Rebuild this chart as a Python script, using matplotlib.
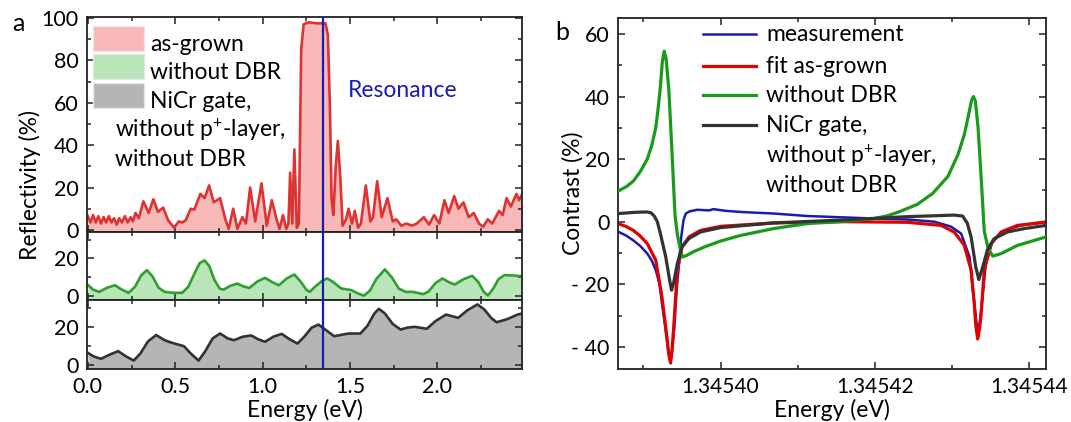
import matplotlib
matplotlib.use("Agg")
import matplotlib.pyplot as plt
import numpy as np
from matplotlib.patches import Rectangle
from matplotlib.lines import Line2D
from matplotlib.ticker import MultipleLocator, FixedLocator, FuncFormatter, FormatStrFormatter

plt.rcParams['font.family'] = ['Lato', 'DejaVu Sans']
plt.rcParams['mathtext.fontset'] = 'custom'
plt.rcParams['mathtext.rm'] = 'Lato'
plt.rcParams['font.size'] = 16.5

# --- panel a: reflectivity spectra, (energy eV, reflectivity %) ---
asgrown = np.array([
    (0.000, 6.5), (0.015, 3.5), (0.030, 7.0), (0.045, 3.5), (0.060, 6.5), (0.075, 3.0),
    (0.090, 6.0), (0.105, 3.5), (0.120, 6.5), (0.135, 3.5), (0.150, 5.5), (0.165, 2.5),
    (0.180, 5.5), (0.195, 3.5), (0.212, 6.5), (0.228, 3.5), (0.245, 6.0), (0.258, 4.0),
    (0.273, 8.0), (0.292, 5.5), (0.318, 13.5), (0.348, 8.0), (0.375, 14.5), (0.401, 8.5),
    (0.431, 10.5), (0.460, 4.5), (0.494, 1.0), (0.520, 4.0), (0.540, 3.5), (0.560, 4.5),
    (0.589, 10.0), (0.609, 9.5), (0.644, 17.0), (0.668, 15.0), (0.694, 21.0), (0.721, 13.0),
    (0.757, 15.0), (0.787, 5.0), (0.806, 0.5), (0.832, 10.0), (0.856, 0.5), (0.885, 6.0),
    (0.905, 3.0), (0.929, 20.0), (0.958, 4.0), (0.994, 22.0), (1.024, 2.0), (1.053, 14.0),
    (1.077, 6.0), (1.097, 0.5), (1.117, 7.0), (1.136, 0.5), (1.148, 3.0), (1.158, 27.0),
    (1.170, 3.0), (1.182, 38.0), (1.196, 1.0), (1.208, 3.0), (1.221, 85.0), (1.235, 97.0),
    (1.261, 98.0), (1.310, 97.5), (1.360, 97.5), (1.374, 92.0), (1.385, 60.0), (1.395, 15.0),
    (1.405, 7.0), (1.419, 30.0), (1.431, 42.0), (1.445, 25.0), (1.458, 2.0), (1.478, 5.0),
    (1.492, 10.0), (1.512, 3.0), (1.528, 9.0), (1.547, 1.0), (1.563, 3.0), (1.591, 21.0),
    (1.617, 4.0), (1.632, 6.0), (1.656, 23.0), (1.682, 6.0), (1.715, 15.0), (1.745, 4.0),
    (1.765, 5.0), (1.794, 2.0), (1.824, 3.0), (1.854, 2.0), (1.883, 3.0), (1.923, 6.0),
    (1.953, 2.5), (1.982, 7.0), (2.012, 3.0), (2.041, 14.0), (2.065, 8.0), (2.097, 16.0),
    (2.121, 10.0), (2.150, 13.0), (2.180, 6.0), (2.209, 8.0), (2.239, 3.0), (2.263, 1.5),
    (2.289, 5.0), (2.314, 3.0), (2.354, 9.0), (2.374, 7.0), (2.397, 15.0), (2.421, 11.0),
    (2.453, 17.0), (2.468, 14.0), (2.486, 17.0),
])

no_dbr = np.array([
    (0.000, 6.0), (0.030, 3.5), (0.065, 2.3), (0.110, 4.5), (0.155, 5.8), (0.195, 3.5),
    (0.233, 1.8), (0.270, 5.0), (0.305, 11.0), (0.338, 13.8), (0.370, 10.5), (0.405, 4.5),
    (0.440, 2.3), (0.490, 1.8), (0.540, 1.8), (0.575, 5.0), (0.610, 12.0), (0.640, 17.5),
    (0.668, 19.0), (0.695, 16.0), (0.725, 8.5), (0.755, 4.0), (0.777, 3.5), (0.815, 5.5),
    (0.856, 6.7), (0.890, 5.2), (0.925, 4.4), (0.970, 7.8), (1.014, 9.7), (1.055, 7.5),
    (1.093, 5.8), (1.140, 9.5), (1.182, 11.5), (1.220, 7.5), (1.250, 3.5), (1.270, 2.3),
    (1.300, 5.0), (1.340, 8.1), (1.370, 9.4), (1.405, 7.5), (1.450, 4.1), (1.510, 3.2),
    (1.545, 1.5), (1.580, 0.3), (1.615, 3.0), (1.650, 9.0), (1.700, 14.2), (1.740, 10.0),
    (1.780, 4.0), (1.820, 2.3), (1.860, 2.3), (1.920, 1.1), (1.950, 2.5), (1.990, 7.0),
    (2.030, 9.4), (2.065, 7.5), (2.100, 6.2), (2.150, 9.0), (2.200, 10.8), (2.235, 7.5),
    (2.265, 2.5), (2.290, 0.4), (2.320, 4.0), (2.350, 9.0), (2.385, 11.2), (2.430, 11.0),
    (2.486, 10.6),
])

nicr = np.array([
    (0.000, 6.4), (0.035, 4.5), (0.075, 3.3), (0.125, 5.5), (0.174, 7.3), (0.220, 4.5),
    (0.263, 2.4), (0.300, 6.0), (0.345, 12.5), (0.391, 15.7), (0.440, 13.0), (0.480, 11.7),
    (0.550, 9.9), (0.590, 6.0), (0.634, 2.4), (0.670, 7.0), (0.715, 14.0), (0.757, 16.5),
    (0.800, 14.0), (0.836, 13.0), (0.885, 14.8), (0.935, 15.5), (0.975, 13.5), (1.014, 12.2),
    (1.065, 15.0), (1.110, 16.3), (1.155, 13.5), (1.200, 11.3), (1.240, 15.0), (1.280, 19.5),
    (1.320, 21.2), (1.360, 18.5), (1.410, 15.1), (1.490, 16.5), (1.560, 16.5), (1.600, 20.5),
    (1.640, 27.0), (1.666, 29.4), (1.700, 27.0), (1.745, 21.5), (1.790, 18.6), (1.830, 19.6),
    (1.870, 20.0), (1.940, 19.0), (1.990, 23.0), (2.050, 26.4), (2.120, 24.7), (2.170, 28.5),
    (2.230, 31.7), (2.270, 29.0), (2.310, 24.5), (2.340, 22.4), (2.400, 24.0), (2.460, 26.4),
    (2.486, 27.0),
])

resonance_ev = 1.3454

# --- panel b: contrast, (detuning in ueV from 1.3454 eV, contrast %) ---
meas = np.array([
    (-13.2, -3.3), (-12.2, -4.5), (-11.3, -6.0), (-10.4, -7.8), (-9.5, -10.2), (-8.9, -12.5),
    (-8.4, -15.5), (-7.9, -20.0), (-7.6, -26.0), (-7.2, -33.0), (-6.8, -41.0), (-6.45, -45.3),
    (-6.0, -34.0), (-5.7, -22.0), (-5.4, -14.0), (-5.1, -5.0), (-4.8, 0.5), (-4.5, 2.6),
    (-4.0, 3.3), (-3.0, 3.8), (-1.5, 3.6), (-0.9, 4.0), (0.5, 3.5), (2.6, 3.1), (6.9, 2.6),
    (11.3, 1.8), (15.6, 1.4), (19.9, 1.0), (24.2, 0.7), (27.7, 0.0), (29.9, -1.6),
    (31.2, -3.8), (32.3, -11.3), (32.9, -26.0), (33.4, -36.8), (33.8, -28.3), (34.4, -13.4),
    (35.3, -6.0), (36.8, -2.8), (39.0, -1.2), (42.2, -0.1),
])

fit_asgrown = np.array([
    (-13.2, -0.7), (-12.2, -1.6), (-11.3, -2.8), (-10.4, -4.6), (-9.5, -7.0), (-8.4, -12.3),
    (-7.6, -24.0), (-6.9, -37.9), (-6.7, -42.5), (-6.5, -45.0), (-6.3, -41.5), (-6.1, -34.7),
    (-5.6, -15.5), (-5.0, -8.1), (-4.1, -4.9), (-2.6, -2.8), (0.0, -1.5), (6.9, -0.4),
    (15.6, 0.0), (24.2, -0.2), (28.6, -1.2), (30.3, -3.3), (31.6, -7.5), (32.5, -15.5),
    (32.9, -26.0), (33.1, -33.0), (33.35, -37.5), (33.6, -34.0), (33.8, -29.4), (34.2, -15.5),
    (35.1, -7.0), (36.4, -3.3), (38.5, -1.2), (42.2, -0.1),
])

fit_no_dbr = np.array([
    (-13.2, 9.9), (-12.2, 11.2), (-11.3, 13.0), (-10.4, 16.0), (-9.5, 20.0), (-8.9, 24.5),
    (-8.4, 30.0), (-8.1, 36.0), (-7.8, 43.0), (-7.55, 51.0), (-7.3, 54.5), (-7.05, 52.0),
    (-6.7, 42.0), (-6.3, 22.5), (-5.9, 2.0), (-5.6, -4.0), (-5.2, -9.0), (-4.95, -11.3),
    (-4.4, -10.8), (-3.5, -9.6), (-2.0, -8.0), (0.0, -6.2), (2.6, -4.4), (6.9, -2.2),
    (11.3, -0.6), (15.6, 0.0), (19.9, 1.0), (21.5, 1.8), (23.0, 3.0), (25.5, 5.5),
    (27.5, 9.0), (29.5, 14.5), (30.8, 21.5), (31.6, 27.7), (32.2, 34.5), (32.55, 38.8),
    (32.8, 40.0), (33.05, 38.5), (33.4, 30.0), (33.8, 14.0), (34.2, -3.0), (34.7, -8.5),
    (35.3, -11.0), (36.4, -10.2), (38.5, -7.6), (42.2, -4.9),
])

fit_nicr = np.array([
    (-13.2, 2.6), (-11.0, 3.0), (-9.5, 3.1), (-9.0, 2.8), (-8.6, 1.8), (-8.2, 0.0),
    (-7.8, -3.8), (-7.1, -11.3), (-6.6, -18.7), (-6.35, -21.9), (-6.1, -19.8), (-5.6, -13.4),
    (-5.0, -8.1), (-4.1, -5.4), (-2.6, -3.3), (0.0, -1.9), (6.9, -0.4), (15.6, 0.5),
    (24.2, 1.6), (30.3, 2.1), (31.4, 1.8), (32.0, -0.5), (32.5, -4.9), (33.1, -14.5),
    (33.5, -18.5), (34.0, -14.5), (34.6, -9.1), (35.5, -5.4), (37.2, -3.3), (39.4, -2.2),
    (42.2, -1.2),
])

b_center = 1.3454
b_xticks = [1.34540, 1.34542, 1.34544]
b_xminor = [1.34539, 1.34541, 1.34543]

RED, PINK = '#dd3333', '#f8b8b8'
GREEN, LGREEN = '#2ea02e', '#b9e5b9'
DARK, GRAY = '#333333', '#b5b5b5'
BLUE = '#1b1bb0'
TICK_FS = 15.5
TEXT_FS = 16.5


def style(ax):
    for s in ax.spines.values():
        s.set_linewidth(1.3)
        s.set_color('#222222')
    ax.tick_params(which='both', direction='in', top=True, right=True,
                   color='#222222', width=1.1, pad=6, labelsize=TICK_FS)
    ax.tick_params(which='major', length=5)
    ax.tick_params(which='minor', length=3)


fig = plt.figure(figsize=(10.71, 4.22), dpi=100)
ax_top = fig.add_axes([0.0812, 0.4502, 0.4062, 0.5095])
ax_mid = fig.add_axes([0.0812, 0.2891, 0.4062, 0.1611])
ax_bot = fig.add_axes([0.0812, 0.1256, 0.4062, 0.1635])
ax_b = fig.add_axes([0.577, 0.1263, 0.3996, 0.8303])

panels = [
    (ax_top, asgrown, RED, PINK, (-1, 100.5), 20),
    (ax_mid, no_dbr, GREEN, LGREEN, (-2, 34), 20),
    (ax_bot, nicr, DARK, GRAY, (-2, 34), 20),
]
for ax, data, lc, fc, ylim, step in panels:
    ax.fill_between(data[:, 0], data[:, 1], ylim[0], color=fc, lw=0)
    ax.plot(data[:, 0], data[:, 1], color=lc, lw=1.9)
    ax.axvline(resonance_ev, color=BLUE, lw=1.6, zorder=3)
    ax.set_xlim(-0.005, 2.485)
    ax.set_ylim(*ylim)
    ax.xaxis.set_major_locator(MultipleLocator(0.5))
    ax.xaxis.set_minor_locator(MultipleLocator(0.25))
    ax.yaxis.set_major_locator(MultipleLocator(step))
    ax.yaxis.set_minor_locator(MultipleLocator(10))
    style(ax)
    if ax is not ax_bot:
        ax.tick_params(labelbottom=False)

ax_bot.xaxis.set_major_formatter(FormatStrFormatter('%.1f'))
ax_bot.set_xlabel('Energy (eV)', labelpad=1, fontsize=TEXT_FS)

ax_top.text(0.60, 0.63, 'Resonance', color=BLUE, fontsize=TEXT_FS,
            transform=ax_top.transAxes, va='baseline')

# legend of panel a, keys stacked like the filled areas
keys = [(PINK, 0.8419, 0.9595), (LGREEN, 0.7102, 0.8265), (GRAY, 0.5781, 0.6944)]
for fc, y0, y1 in keys:
    ax_top.add_patch(Rectangle((0.0138, y0), 0.117, y1 - y0, transform=ax_top.transAxes,
                               facecolor=fc, edgecolor='#e6e6e6', lw=1.0, zorder=4))
leg_a = [(0.145, 0.842, 'as-grown'), (0.145, 0.712, 'without DBR'),
         (0.145, 0.577, 'NiCr gate,'),
         (0.0655, 0.442, r'without p$\mathregular{^{+}}$-layer,'),
         (0.0655, 0.307, 'without DBR')]
for x, y, s in leg_a:
    ax_top.text(x, y, s, transform=ax_top.transAxes, va='baseline', fontsize=TEXT_FS, zorder=5)

# panel b
series_b = [
    (meas, BLUE, 1.8, 1),
    (fit_asgrown, '#e00000', 2.3, 2),
    (fit_no_dbr, '#1a9a1a', 2.3, 3),
    (fit_nicr, DARK, 2.3, 4),
]
for data, c, lw, z in series_b:
    ax_b.plot(b_center + data[:, 0] * 1e-6, data[:, 1], color=c, lw=lw, zorder=z)

ax_b.set_xlim(b_center - 13.3e-6, b_center + 42.2e-6)
ax_b.set_ylim(-47, 65)
ax_b.xaxis.set_major_locator(FixedLocator(b_xticks))
ax_b.xaxis.set_minor_locator(FixedLocator(b_xminor))
ax_b.xaxis.set_major_formatter(FormatStrFormatter('%.5f'))
ax_b.yaxis.set_major_locator(MultipleLocator(20))
ax_b.yaxis.set_minor_locator(MultipleLocator(10))
ax_b.yaxis.set_major_formatter(FuncFormatter(
    lambda v, p: f'- {-v:.0f}' if v < 0 else f'{v:.0f}'))
style(ax_b)
ax_b.tick_params(axis='x', labelsize=15)
ax_b.set_xlabel('Energy (eV)', labelpad=1, fontsize=TEXT_FS)

leg_b = [(BLUE, 1.8, 0.954, 0.934, 'measurement'),
         ('#e00000', 2.3, 0.864, 0.844, 'fit as-grown'),
         ('#1a9a1a', 2.3, 0.781, 0.761, 'without DBR'),
         (DARK, 2.3, 0.695, 0.676, 'NiCr gate,')]
for c, lw, yh, yt, s in leg_b:
    ax_b.add_line(Line2D([0.199, 0.322], [yh, yh], color=c, lw=lw,
                         transform=ax_b.transAxes, zorder=5))
    ax_b.text(0.346, yt, s, transform=ax_b.transAxes, va='baseline', fontsize=TEXT_FS)
ax_b.text(0.346, 0.588, r'without p$\mathregular{^{+}}$-layer,', transform=ax_b.transAxes,
          va='baseline', fontsize=TEXT_FS)
ax_b.text(0.346, 0.504, 'without DBR', transform=ax_b.transAxes, va='baseline',
          fontsize=TEXT_FS)

fig.text(0.028, 0.5616, 'Reflectivity (%)', rotation=90, ha='center', va='center',
         fontsize=TEXT_FS)
fig.text(0.535, 0.543, 'Contrast (%)', rotation=90, ha='center', va='center',
         fontsize=TEXT_FS)
fig.text(0.017, 0.945, 'a', ha='center', va='center', fontsize=18)
fig.text(0.525, 0.922, 'b', ha='center', va='center', fontsize=18)

fig.savefig('out.png', dpi=100)
